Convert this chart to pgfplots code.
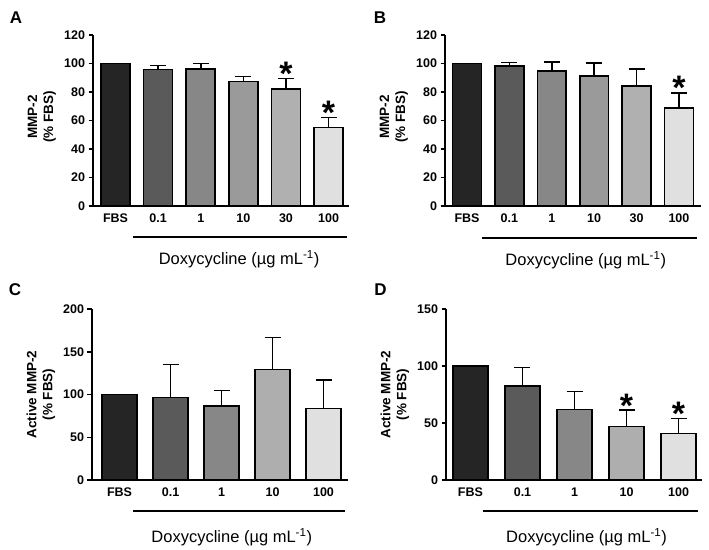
\documentclass[border=0pt]{standalone}
\usepackage{pgfplots}
\pgfplotsset{compat=1.18}
\usepackage{fontspec}
\setmainfont{Liberation Sans}
\definecolor{c0}{HTML}{252525}
\definecolor{c1}{HTML}{5A5A5A}
\definecolor{c2}{HTML}{878787}
\definecolor{c3}{HTML}{9A9A9A}
\definecolor{c4}{HTML}{B0B0B0}
\definecolor{c5}{HTML}{E0E0E0}
\definecolor{d3}{HTML}{AEAEAE}
\pgfplotsset{
  panel/.style={
    scale only axis, width=256pt, height=171pt,
    axis lines=left, axis line style={-, line width=1.5pt, black},
    tick align=outside, major tick length=4.5pt,
    xtick style={draw=none},
    ytick style={line width=1.5pt, black},
    tick label style={font=\bfseries\fontsize{12.5}{14}\selectfont},
    /pgf/number format/assume math mode=true,
    ymin=0, clip=false, xtick={0,...,5},
  },
  bx/.style={ybar, bar width=0.68, bar shift=0pt, draw=black, line width=1.6pt},
  bxe/.style={bx,
    error bars/y dir=plus, error bars/y explicit,
    error bars/error bar style={line width=1.6pt, black},
    error bars/error mark options={rotate=90, mark size=8pt, line width=1.6pt, black}},
}
\tikzset{
  star/.style={anchor=base, font=\bfseries\fontsize{34}{34}\selectfont, inner sep=0pt, yshift=-7pt},
  ylab/.style={rotate=90, align=center, font=\bfseries\fontsize{13.5}{16}\selectfont},
  dox/.style={font=\fontsize{16.5}{18}\selectfont},
  dline/.style={line width=2pt},
}
\begin{document}
\begin{tikzpicture}
\path[use as bounding box] (0pt,0pt) rectangle (709pt,549pt);
% Panel A
\begin{axis}[panel, at={(93pt,343pt)}, anchor=south west,
  xmin=-0.53, xmax=5.48, ymax=120, ytick={0,20,...,120},
  xticklabels={FBS,0.1,1,10,30,100}]
\addplot[bx, fill=c0] coordinates {(0,100)};
\addplot[bxe, fill=c1] coordinates {(1,95.9) +- (0,2.8)};
\addplot[bxe, fill=c2] coordinates {(2,96.1) +- (0,4.0)};
\addplot[bxe, fill=c3] coordinates {(3,87.3) +- (0,3.5)};
\addplot[bxe, fill=c4] coordinates {(4,81.9) +- (0,7.5)};
\addplot[bxe, fill=c5] coordinates {(5,55.2) +- (0,6.8)};
\node[star] at (axis cs:4,89.4) {*};
\node[star] at (axis cs:5,62.0) {*};
\draw[dline] (axis cs:0.41,-21.8) -- (axis cs:5.43,-21.8);
\node[dox] at (axis cs:2.90,-37.2) {Doxycycline (µg mL\textsuperscript{-1})};
\node[ylab] at (rel axis cs:-0.2,0.52) {MMP-2\\(\% FBS)};
\end{axis}
% Panel B
\begin{axis}[panel, at={(445pt,343pt)}, anchor=south west,
  xmin=-0.52, xmax=5.52, ymax=120, ytick={0,20,...,120},
  xticklabels={FBS,0.1,1,10,30,100}]
\addplot[bx, fill=c0] coordinates {(0,100)};
\addplot[bxe, fill=c1] coordinates {(1,98.4) +- (0,2.3)};
\addplot[bxe, fill=c2] coordinates {(2,94.6) +- (0,6.3)};
\addplot[bxe, fill=c3] coordinates {(3,91.1) +- (0,9.1)};
\addplot[bxe, fill=c4] coordinates {(4,84.0) +- (0,12.0)};
\addplot[bxe, fill=c5] coordinates {(5,68.7) +- (0,10.6)};
\node[star] at (axis cs:5,79.3) {*};
\draw[dline] (axis cs:0.35,-22.5) -- (axis cs:5.42,-22.5);
\node[dox] at (axis cs:2.80,-38.1) {Doxycycline (µg mL\textsuperscript{-1})};
\node[ylab] at (rel axis cs:-0.2,0.52) {MMP-2\\(\% FBS)};
\end{axis}
% Panel C
\begin{axis}[panel, at={(92pt,69pt)}, anchor=south west,
  xmin=-0.54, xmax=4.48, ymax=200, ytick={0,50,...,200},
  xtick={0,...,4}, xticklabels={FBS,0.1,1,10,100}]
\addplot[bx, fill=c0] coordinates {(0,100)};
\addplot[bxe, fill=c1] coordinates {(1,96.7) +- (0,38.2)};
\addplot[bxe, fill=c2] coordinates {(2,86.9) +- (0,17.6)};
\addplot[bxe, fill=d3] coordinates {(3,129.4) +- (0,37.5)};
\addplot[bxe, fill=c5] coordinates {(4,83.4) +- (0,33.6)};
\draw[dline] (axis cs:0.26,-36.6) -- (axis cs:4.43,-36.6);
\node[dox] at (axis cs:2.20,-67) {Doxycycline (µg mL\textsuperscript{-1})};
\node[ylab] at (rel axis cs:-0.2,0.50) {Active MMP-2\\(\% FBS)};
\end{axis}
% Panel D
\begin{axis}[panel, at={(446pt,69pt)}, anchor=south west,
  xmin=-0.47, xmax=4.45, ymax=150, ytick={0,50,...,150},
  xtick={0,...,4}, xticklabels={FBS,0.1,1,10,100}]
\addplot[bx, fill=c0] coordinates {(0,100)};
\addplot[bxe, fill=c1] coordinates {(1,82.7) +- (0,16.1)};
\addplot[bxe, fill=c2] coordinates {(2,62.0) +- (0,15.8)};
\addplot[bxe, fill=d3] coordinates {(3,46.8) +- (0,14.6)};
\addplot[bxe, fill=c5] coordinates {(4,40.9) +- (0,13.2)};
\node[star] at (axis cs:3,61.4) {*};
\node[star] at (axis cs:4,54.1) {*};
\draw[dline] (axis cs:0.25,-27.5) -- (axis cs:4.38,-27.5);
\node[dox] at (axis cs:2.23,-50.3) {Doxycycline (µg mL\textsuperscript{-1})};
\node[ylab] at (rel axis cs:-0.2,0.50) {Active MMP-2\\(\% FBS)};
\end{axis}
% Panel letters
\node[font=\bfseries\fontsize{17}{17}\selectfont] at (16pt,531.5pt) {A};
\node[font=\bfseries\fontsize{17}{17}\selectfont] at (380pt,531.5pt) {B};
\node[font=\bfseries\fontsize{17}{17}\selectfont] at (15pt,259pt) {C};
\node[font=\bfseries\fontsize{17}{17}\selectfont] at (380.5pt,259pt) {D};
\end{tikzpicture}
\end{document}
